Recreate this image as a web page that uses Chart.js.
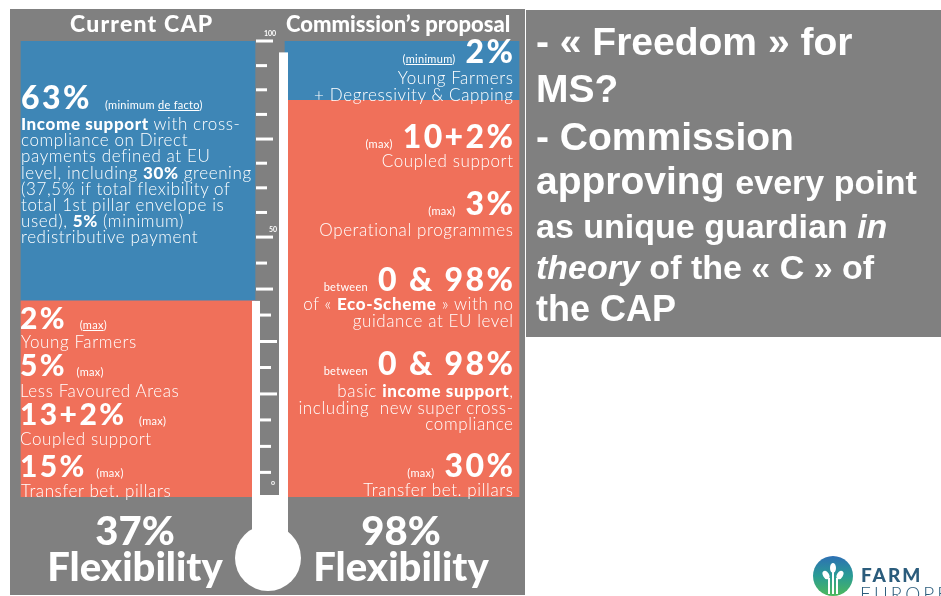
<!DOCTYPE html>
<html>
<head>
<meta charset="utf-8">
<script src="https://cdn.jsdelivr.net/npm/chart.js@4.4.1/dist/chart.umd.min.js"></script>
<style>
  body { margin: 0; background: #fff; width: 941px; height: 596px; overflow: hidden; position: relative; font-family: Lato, "Open Sans", sans-serif; }
  #panel { position: absolute; left: 10px; top: 9px; width: 515px; height: 586px; background: #808080; }
  #note { position: absolute; left: 526px; top: 10px; width: 415px; height: 327px; background: #808080; }
  #cap { position: absolute; left: 0; top: 0; }
  .t { position: absolute; color: #fff; white-space: nowrap; line-height: 1; transform: translateY(-50%); }
  .r { right: 428px; text-align: right; margin-right: -0.6px; }
  .big { font-weight: 900; font-size: 32px; letter-spacing: 2.4px; }
  .r.big { margin-right: -2.4px; }
  .sm { font-size: 11px; font-weight: 400; letter-spacing: 0.3px; }
  .txt { font-size: 17px; font-weight: 300; letter-spacing: 0.6px; }
  .txt b { font-weight: 900; }
  .head { font-weight: 900; font-size: 22px; }
  .flex { font-weight: 900; text-align: center; width: 240px; transform: translate(-50%, -50%); }
  .n { position: absolute; left: 536px; color: #fff; white-space: nowrap; line-height: 1; transform: translateY(-50%);
       font-family: "Liberation Sans", Arial, sans-serif; font-weight: bold; font-size: 39px; }
  .n .s { font-size: 34px; }
</style>
</head>
<body>
<div id="panel"></div>
<div id="note"></div>
<canvas id="cap" width="941" height="596"></canvas>

<!-- headings -->
<div class="t head" style="left:70px;top:23px;font-size:23px;letter-spacing:1.2px">Current CAP</div>
<div class="t head" style="left:286px;top:24px">Commission’s proposal</div>

<!-- current CAP, blue block -->
<div class="t big" style="left:21px;top:97px">63% <span class="sm">&nbsp;(minimum <u>de facto</u>)</span></div>
<div class="t txt" style="left:21px;top:181px;line-height:16.2px">
<b>Income support</b> with cross-<br>compliance on Direct<br>payments defined at EU<br>level, including <b>30%</b> greening<br>(37,5% if total flexibility of<br>total 1st pillar envelope is<br>used), <b>5%</b> (minimum)<br>redistributive payment</div>

<!-- current CAP, red block -->
<div class="t big" style="left:20px;top:317px;font-size:30px">2% <span class="sm">&nbsp;(<u>max</u>)</span></div>
<div class="t txt" style="left:21px;top:341px">Young Farmers</div>
<div class="t big" style="left:20px;top:364px;font-size:30px">5% <span class="sm">(max)</span></div>
<div class="t txt" style="left:20px;top:390px">Less Favoured Areas</div>
<div class="t big" style="left:20px;top:413px;font-size:30px">13+2% <span class="sm">&nbsp;(max)</span></div>
<div class="t txt" style="left:20px;top:438px">Coupled support</div>
<div class="t big" style="left:20px;top:465px;font-size:30px">15% <span class="sm">(max)</span></div>
<div class="t txt" style="left:21px;top:490px">Transfer bet. pillars</div>

<!-- commission's proposal -->
<div class="t big r" style="top:51px"><span class="sm">(<u>minimum</u>)</span> 2%</div>
<div class="t txt r" style="top:77px">Young Farmers</div>
<div class="t txt r" style="top:94px">+ Degressivity &amp; Capping</div>
<div class="t big r" style="top:136px"><span class="sm">(max)</span> 10+2%</div>
<div class="t txt r" style="top:160px">Coupled support</div>
<div class="t big r" style="top:203px"><span class="sm">(max)</span> 3%</div>
<div class="t txt r" style="top:229px">Operational programmes</div>
<div class="t big r" style="top:279px"><span class="sm">between</span> 0 &amp; 98%</div>
<div class="t txt r" style="top:303px">of « <b>Eco-Scheme</b> » with no</div>
<div class="t txt r" style="top:320px">guidance at EU level</div>
<div class="t big r" style="top:363px"><span class="sm">between</span> 0 &amp; 98%</div>
<div class="t txt r" style="top:390px">basic <b>income support</b>,</div>
<div class="t txt r" style="top:407px">including &nbsp;new super cross-</div>
<div class="t txt r" style="top:423px">compliance</div>
<div class="t big r" style="top:465px"><span class="sm">(max)</span> 30%</div>
<div class="t txt r" style="top:489px">Transfer bet. pillars</div>

<!-- flexibility totals -->
<div class="t flex" style="left:135px;top:530px;font-size:40px">37%</div>
<div class="t flex" style="left:135px;top:566px;font-size:40px">Flexibility</div>
<div class="t flex" style="left:401px;top:530px;font-size:40px">98%</div>
<div class="t flex" style="left:401px;top:566px;font-size:40px">Flexibility</div>

<!-- comment box -->
<div class="n" style="top:41px">- « Freedom » for</div>
<div class="n" style="top:88px">MS?</div>
<div class="n" style="top:136px">- Commission</div>
<div class="n" style="top:180px">approving <span class="s">every point</span></div>
<div class="n s" style="top:226px;font-size:34px">as unique guardian <i>in</i></div>
<div class="n s" style="top:267px;font-size:34px"><i>theory</i> of the « C » of</div>
<div class="n" style="top:309px;font-size:36px">the CAP</div>

<!-- logo -->
<svg style="position:absolute;left:812px;top:554px" width="44" height="44" viewBox="0 0 44 44">
  <defs><linearGradient id="lg" x1="0" y1="0" x2="0" y2="1">
    <stop offset="0" stop-color="#2d6fb4"/><stop offset="0.5" stop-color="#2a9c94"/><stop offset="1" stop-color="#4db85c"/>
  </linearGradient></defs>
  <circle cx="21" cy="22" r="20" fill="url(#lg)"/>
  <path d="M21 40 V18 M17 40 V24 M25 40 V24" stroke="#fff" stroke-width="2" fill="none"/>
  <ellipse cx="21" cy="14" rx="3" ry="5" fill="#fff"/>
  <ellipse cx="14" cy="21" rx="3" ry="4.5" fill="#fff" transform="rotate(-30 14 21)"/>
  <ellipse cx="28" cy="21" rx="3" ry="4.5" fill="#fff" transform="rotate(30 28 21)"/>
</svg>
<div style="position:absolute;left:861px;top:565px;font:900 19px Lato, sans-serif;letter-spacing:2px;color:#2b5c7c;line-height:1">FARM</div>
<div style="position:absolute;left:860px;top:584px;font:300 19px Lato, sans-serif;letter-spacing:3px;color:#2b5c7c;line-height:1">EUROPE</div>

<script>
const categories = ["Current CAP", "Commission's proposal"];
// height of each block as it is drawn on the 0-100 thermometer
const incomeShare = [57, 13];   // blue, income support
const flexShare = [43, 87];     // red, flexible part
// thermometer tick positions (scale values) and which ones are long
const thermoTicks = [100, 94.6, 89.3, 83.9, 78.5, 73.2, 67.8, 62.4, 57, 51.3, 45.6, 39.9, 34.1, 28.4, 22.6, 16.9, 11.1, 5.4];
const thermoLong = [1, 0, 0, 0, 1, 0, 0, 0, 1, 0, 1, 0, 1, 0, 1, 0, 0, 0];
const thermoLabels = [[100, "100"], [57, "50"], [1.5, "o"]];

const blue = "#3e86b6";
const red = "#f0705a";

const thermometer = {
    id: "thermometer",
    afterDatasetsDraw(chart) {
        const ctx = chart.ctx;
        const y = chart.scales.y;
        const split = y.getPixelForValue(flexShare[0]);
        const base = y.getPixelForValue(0) - 2;
        ctx.save();
        ctx.fillStyle = "#fff";
        // tube walls
        ctx.fillRect(279, y.getPixelForValue(97.5), 9, base - y.getPixelForValue(97.5));
        ctx.fillRect(252, split, 8, base - split);
        // stem and bulb
        ctx.fillRect(252, base, 36, 60);
        ctx.beginPath();
        ctx.arc(268, 558, 33, 0, Math.PI * 2);
        ctx.fill();
        // ticks
        thermoTicks.forEach((v, i) => {
            const py = y.getPixelForValue(v);
            const x0 = py < split ? 256 : 260;
            const len = thermoLong[i] ? 17 : 11;
            ctx.fillRect(x0, py - 1.5, len, 3);
        });
        ctx.font = "bold 7px Lato, sans-serif";
        ctx.textAlign = "center";
        ctx.textBaseline = "middle";
        thermoLabels.forEach(([v, s]) => {
            ctx.fillText(s, v === 100 ? 270 : 273, y.getPixelForValue(v) - 7);
        });
        ctx.restore();
    }
};

new Chart(document.getElementById("cap"), {
    type: "bar",
    data: {
        labels: categories,
        datasets: [
            { label: "Flexible part", data: flexShare, backgroundColor: red, barThickness: 234 },
            { label: "Income support", data: incomeShare, backgroundColor: blue, barThickness: 234 }
        ]
    },
    options: {
        responsive: false,
        animation: false,
        devicePixelRatio: 1,
        layout: { padding: { left: 6, right: 407, top: 41, bottom: 99 } },
        plugins: { legend: { display: false }, tooltip: { enabled: false } },
        scales: {
            x: { stacked: true, display: false },
            y: { stacked: true, display: false, min: 0, max: 100 }
        }
    },
    plugins: [thermometer]
});
</script>
</body>
</html>
